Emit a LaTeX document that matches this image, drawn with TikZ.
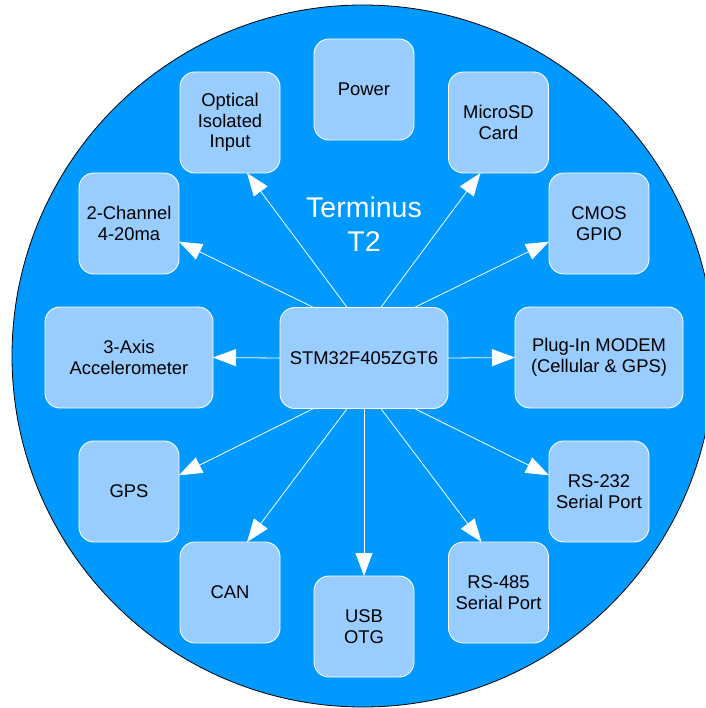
\documentclass[tikz,border=0pt]{standalone}
\usepackage{fontspec}
\setmainfont{Liberation Sans}
\usetikzlibrary{arrows.meta,calc}
\definecolor{disc}{HTML}{0099FF}
\definecolor{boxc}{HTML}{99CCFF}
\begin{document}
\begin{tikzpicture}[x=1pt,y=-1pt,
 blk/.style={draw=white,line width=0.9pt,fill=boxc,rounded corners=15pt,minimum width=100pt,minimum height=101pt,align=center,inner sep=0pt,outer sep=0pt,font=\fontsize{18.4}{20.6}\selectfont,text=black},
 wide/.style={blk,minimum width=168pt},
 link/.style={draw=white,line width=0.8pt,-{Triangle[length=23pt,width=17pt,fill=white]}}]
\useasboundingbox (0,0) rectangle (705,708);
\begin{scope}
\clip (0,0) rectangle (705,708);
\draw[fill=disc,draw=black,line width=0.8pt] (363,356) circle[radius=351pt];
\end{scope}
\node[blk] (power) at (364,89.5) {Power};
\node[blk] (opt) at (230,122.5) {Optical\\Isolated\\Input};
\node[blk] (sd) at (498.5,122.5) {MicroSD\\Card};
\node[blk] (ch) at (129,223.5) {2-Channel\\4-20ma};
\node[blk] (cmos) at (599,223.5) {CMOS\\GPIO};
\node[wide] (acc) at (129,357.5) {3-Axis\\Accelerometer};
\node[wide] (mcu) at (364,358) {STM32F405ZGT6};
\node[wide] (modem) at (599,357.5) {Plug-In MODEM\\(Cellular \& GPS)};
\node[blk] (gps) at (129,491.5) {GPS};
\node[blk] (rs232) at (599,491.5) {RS-232\\Serial Port};
\node[blk] (can) at (230,592.5) {CAN};
\node[blk] (rs485) at (498.5,592.5) {RS-485\\Serial Port};
\node[blk] (usb) at (364,626.5) {USB\\OTG};
\node[text=white,font=\fontsize{28.5}{34}\selectfont,align=center,inner sep=0pt] (title) at (364,224) {Terminus\\T2};
\draw[link] ($(mcu.north west)!0.2!(mcu.north east)$) -- ($(ch.north east)!0.68!(ch.south east)$);
\draw[link] ($(mcu.north west)!0.4!(mcu.north east)$) -- ($(opt.south west)!0.67!(opt.south east)$);
\draw[link] ($(mcu.north west)!0.6!(mcu.north east)$) -- ($(sd.south west)!0.32!(sd.south east)$);
\draw[link] ($(mcu.north west)!0.8!(mcu.north east)$) -- ($(cmos.north west)!0.68!(cmos.south west)$);
\draw[link] (mcu.west) -- (acc.east);
\draw[link] (mcu.east) -- (modem.west);
\draw[link] ($(mcu.south west)!0.2!(mcu.south east)$) -- ($(gps.north east)!0.34!(gps.south east)$);
\draw[link] ($(mcu.south west)!0.4!(mcu.south east)$) -- ($(can.north west)!0.67!(can.north east)$);
\draw[link] (mcu.south) -- (usb.north);
\draw[link] ($(mcu.south west)!0.6!(mcu.south east)$) -- ($(rs485.north west)!0.33!(rs485.north east)$);
\draw[link] ($(mcu.south west)!0.8!(mcu.south east)$) -- ($(rs232.north west)!0.34!(rs232.south west)$);
\end{tikzpicture}
\end{document}
